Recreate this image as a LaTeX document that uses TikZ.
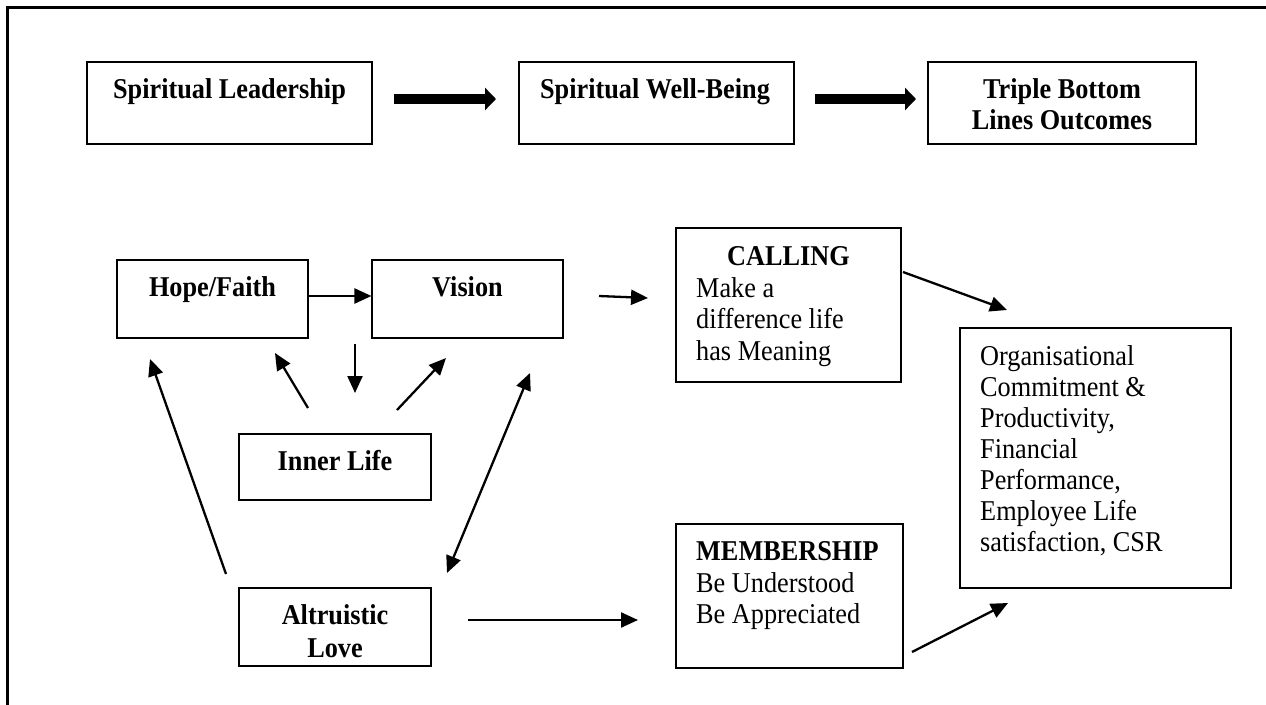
\documentclass[tikz,border=0pt]{standalone}
\usepackage{fontspec}
\setmainfont[FakeStretch=0.915]{Liberation Serif}
\usetikzlibrary{arrows.meta}
\tikzset{
  box/.style={draw, line width=1.1pt, inner sep=0pt},
  txt/.style={inner sep=0pt, anchor=base, font=\fontsize{28.7}{31}\selectfont},
  btxt/.style={txt, font=\fontsize{28.7}{31}\selectfont\bfseries},
  ltxt/.style={txt, anchor=base west},
  lbtxt/.style={btxt, anchor=base west},
  arr/.style={line width=2.3pt, -{Triangle[length=17pt,width=15pt]}},
  darr/.style={line width=2.3pt, {Triangle[length=17pt,width=15pt]}-{Triangle[length=17pt,width=15pt]}},
  fat/.style={line width=10pt, -{Triangle[length=11pt,width=22pt]}},
  frame/.style={line width=3pt}
}
\begin{document}
\begin{tikzpicture}[x=1pt,y=-1pt]
\useasboundingbox (0,0) rectangle (1266,704);
% outer frame (open right and bottom)
\coordinate (fbl) at (7.5,712);
\coordinate (ftl) at (7.5,7.5);
\coordinate (ftr) at (1274,7.5);
\draw[frame] (fbl) -- (ftl) -- (ftr);

% top row
\node[box, minimum width=285pt, minimum height=82pt] (sl) at (229.5,103) {};
\node[box, minimum width=275pt, minimum height=82pt] (swb) at (656.5,103) {};
\node[box, minimum width=268pt, minimum height=82pt] (tbl) at (1062,103) {};
\node[btxt] (slt) at (229.5,98) {Spiritual Leadership};
\node[btxt] (swbt) at (655,98) {Spiritual Well-Being};
\node[btxt] (tblt1) at (1062,98) {Triple Bottom};
\node[btxt] (tblt2) at (1062,129) {Lines Outcomes};

\coordinate (a1s) at (394,99);
\coordinate (a1e) at (496,99);
\coordinate (a2s) at (815,99);
\coordinate (a2e) at (916,99);
\draw[fat] (a1s) -- (a1e);
\draw[fat] (a2s) -- (a2e);

% lower part boxes
\node[box, minimum width=191pt, minimum height=78pt] (hf) at (212.5,299) {};
\node[box, minimum width=191pt, minimum height=78pt] (vis) at (467.5,299) {};
\node[box, minimum width=192pt, minimum height=66pt] (inner) at (335,467) {};
\node[box, minimum width=192pt, minimum height=78pt] (alt) at (335,627) {};
\node[box, minimum width=225pt, minimum height=154pt] (call) at (788.5,305) {};
\node[box, minimum width=227pt, minimum height=144pt] (memb) at (789.5,596) {};
\node[box, minimum width=271pt, minimum height=260pt] (out) at (1095.5,458) {};

\node[btxt] (hft) at (212.5,296) {Hope/Faith};
\node[btxt] (vist) at (467.5,296) {Vision};
\node[btxt] (innert) at (335,470) {Inner Life};
\node[btxt] (altt1) at (335,624) {Altruistic};
\node[btxt] (altt2) at (335,657) {Love};

\node[btxt] (callt0) at (788.5,265) {CALLING};
\node[ltxt] (callt1) at (696,297) {Make a};
\node[ltxt] (callt2) at (696,328) {difference life};
\node[ltxt] (callt3) at (696,360) {has Meaning};

\node[lbtxt] (membt0) at (696,560) {MEMBERSHIP};
\node[ltxt] (membt1) at (696,592) {Be Understood};
\node[ltxt] (membt2) at (696,623) {Be Appreciated};

\node[ltxt] (outt1) at (980,365) {Organisational};
\node[ltxt] (outt2) at (980,396) {Commitment \&};
\node[ltxt] (outt3) at (980,427) {Productivity,};
\node[ltxt] (outt4) at (980,458) {Financial};
\node[ltxt] (outt5) at (980,489) {Performance,};
\node[ltxt] (outt6) at (980,520) {Employee Life};
\node[ltxt] (outt7) at (980,551) {satisfaction, CSR};

% connectors
\coordinate (hfv) at (hf.east |- 0,296);
\coordinate (vhf) at (vis.west |- 0,296);
\draw[arr] (hfv) -- (vhf);

\coordinate (vc1) at (599,296);
\coordinate (vc2) at (648,298);
\draw[arr] (vc1) -- (vc2);

\coordinate (d1) at (355,344);
\coordinate (d2) at (355,393);
\draw[arr] (d1) -- (d2);

\coordinate (ih1) at (308,408);
\coordinate (ih2) at (275,353);
\draw[arr] (ih1) -- (ih2);

\coordinate (iv1) at (397,410);
\coordinate (iv2) at (446,358);
\draw[arr] (iv1) -- (iv2);

\coordinate (ah1) at (226,574);
\coordinate (ah2) at (150,359);
\draw[arr] (ah1) -- (ah2);

\coordinate (av1) at (447,573);
\coordinate (av2) at (530,373);
\draw[darr] (av1) -- (av2);

\coordinate (am1) at (468,620);
\coordinate (am2) at (638,620);
\draw[arr] (am1) -- (am2);

\coordinate (co1) at (903,272);
\coordinate (co2) at (1007,310);
\draw[arr] (co1) -- (co2);

\coordinate (mo1) at (912,652);
\coordinate (mo2) at (1008,603);
\draw[arr] (mo1) -- (mo2);
\end{tikzpicture}
\end{document}
